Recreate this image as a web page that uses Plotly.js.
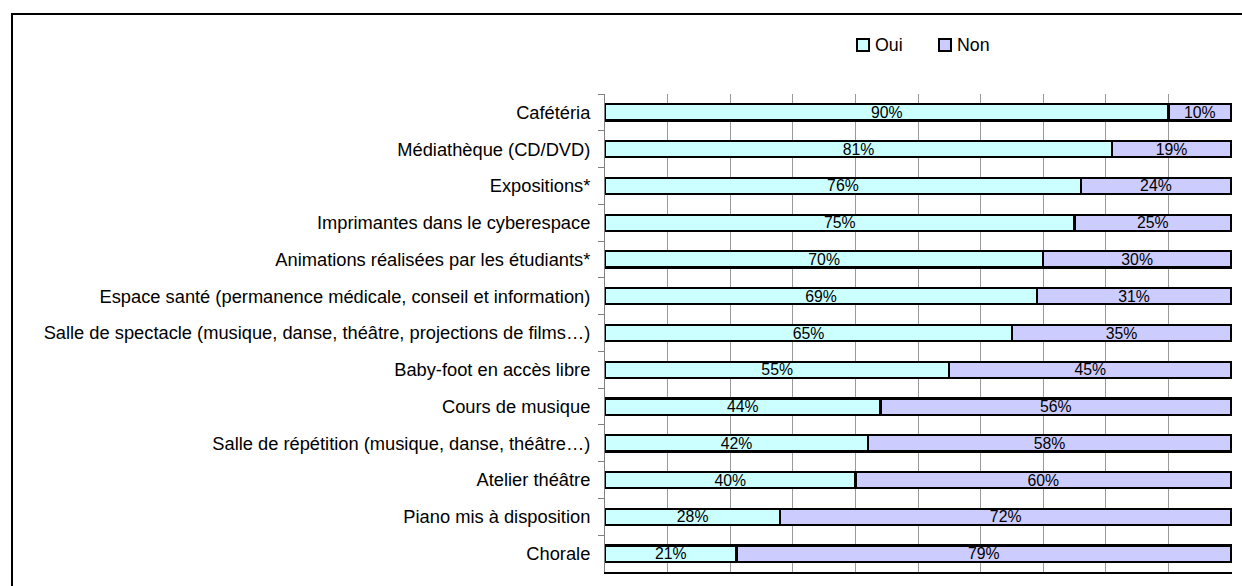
<!DOCTYPE html>
<html>
<head>
<meta charset="utf-8">
<script src="https://cdn.plot.ly/plotly-3.0.1.min.js"></script>
<style>
html,body{margin:0;padding:0;background:#fff;overflow:hidden;}
#wrap{position:relative;width:1242px;height:586px;}
#chart{position:absolute;left:0;top:0;width:1242px;height:586px;}
#frame{position:absolute;left:11px;top:13px;width:1300px;height:700px;border:2px solid #000;pointer-events:none;}
</style>
</head>
<body>
<div id="wrap"><div id="chart"></div><div id="frame"></div></div>
<script>
const categories = [
  "Cafétéria",
  "Médiathèque (CD/DVD)",
  "Expositions*",
  "Imprimantes dans le cyberespace",
  "Animations réalisées par les étudiants*",
  "Espace santé (permanence médicale, conseil et information)",
  "Salle de spectacle (musique, danse, théâtre, projections de films…)",
  "Baby-foot en accès libre",
  "Cours de musique",
  "Salle de répétition (musique, danse, théâtre…)",
  "Atelier théâtre",
  "Piano mis à disposition",
  "Chorale"
];
const oui = [90, 81, 76, 75, 70, 69, 65, 55, 44, 42, 40, 28, 21];
const non = [10, 19, 24, 25, 30, 31, 35, 45, 56, 58, 60, 72, 79];
const seriesNames = ["Oui", "Non"];
const seriesColors = ["#CCFFFF", "#CCCCFF"];

const FONT = "Liberation Sans, Arial, sans-serif";

function barTrace(vals, i) {
  return {
    type: "bar",
    orientation: "h",
    name: seriesNames[i],
    x: vals,
    y: categories,
    marker: {color: seriesColors[i], line: {color: "#000", width: 2.2}},
    text: vals.map(v => v + "%"),
    texttemplate: "%{text}",
    textposition: "inside",
    insidetextanchor: "middle",
    textangle: 0,
    constraintext: "none",
    textfont: {family: FONT, size: 15.8, color: "#000"},
    hoverinfo: "skip",
    showlegend: false
  };
}

const data = [barTrace(oui, 0), barTrace(non, 1)];

// manual legend (geometry in paper coords of the plot area)
const legX = [[0.4019, 0.4211, 0.4274], [0.5327, 0.5518, 0.5582]];
const shapes = [], annotations = [];
seriesNames.forEach((n, i) => {
  shapes.push({type: "rect", xref: "paper", yref: "paper",
    x0: legX[i][0], x1: legX[i][1], y0: 1.090, y1: 1.115,
    fillcolor: seriesColors[i], line: {color: "#000", width: 2}});
  annotations.push({xref: "paper", yref: "paper", x: legX[i][2], y: 1.1025,
    xanchor: "left", yanchor: "middle", showarrow: false, text: n,
    font: {family: FONT, size: 17.8, color: "#000"}});
});

const layout = {
  width: 1242, height: 586,
  margin: {l: 605, r: 10, t: 94, b: 14, pad: 0},
  paper_bgcolor: "#fff", plot_bgcolor: "#fff",
  barmode: "stack",
  bargap: 0.56,
  showlegend: false,
  font: {family: FONT, size: 18.3, color: "#000"},
  xaxis: {
    range: [0, 100.15], dtick: 10, tick0: 0,
    showgrid: true, gridcolor: "#999", gridwidth: 1,
    zeroline: false, showticklabels: false, ticks: "",
    showline: true, linecolor: "#000", linewidth: 1.5
  },
  yaxis: {
    type: "category", autorange: "reversed",
    tickson: "boundaries", ticks: "outside", ticklen: 6, tickcolor: "#808080", tickwidth: 1,
    showgrid: false, zeroline: false,
    showline: true, linecolor: "#808080", linewidth: 1,
    ticklabelstandoff: 10,
    tickfont: {family: FONT, size: 18.3, color: "#000"}
  },
  shapes: shapes,
  annotations: annotations
};

Plotly.newPlot("chart", data, layout, {displayModeBar: false, staticPlot: true});
</script>
</body>
</html>
